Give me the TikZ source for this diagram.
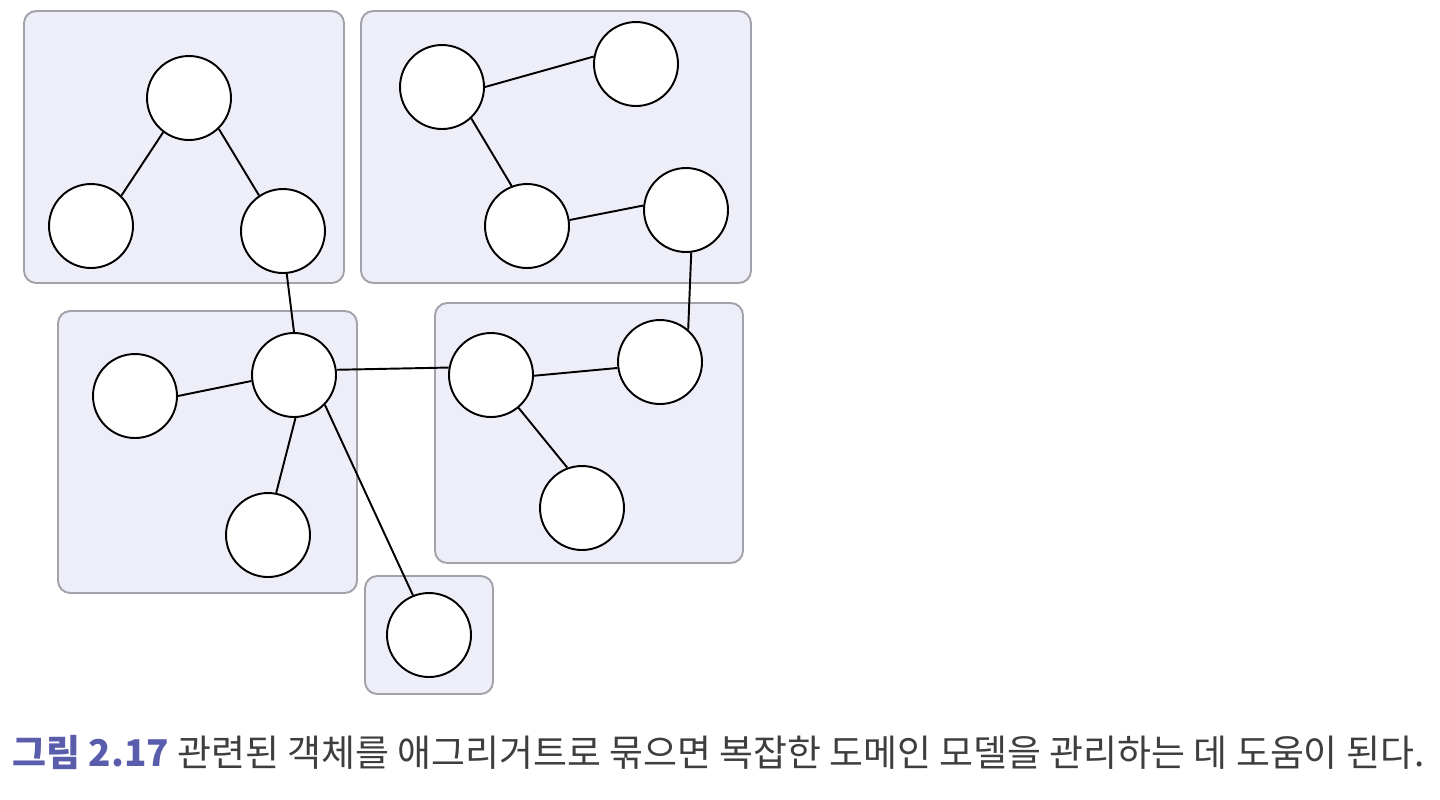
\documentclass[tikz,border=0pt]{standalone}
\usepackage{fontspec}
\newfontfamily\kr{Noto Sans CJK KR}
\usetikzlibrary{positioning,calc}
\definecolor{aggfill}{HTML}{EEEEF8}
\definecolor{aggline}{HTML}{A2A2AA}
\definecolor{capblue}{HTML}{5A5DAB}
\definecolor{capgray}{HTML}{3E3E3E}
\tikzset{obj/.style={draw,circle,fill=white,minimum size=1.68cm,inner sep=0pt,line width=1.1pt}  }
\tikzset{agg/.style={draw=aggline,fill=aggfill,rounded corners=7pt,line width=1.1pt}  }

\begin{document}
\begin{tikzpicture}[x=0.02cm,y=-0.02cm]
    \useasboundingbox (0,0) rectangle (1440,799);

    % aggregates
    \draw[agg] (24,11) rectangle (344,283);
    \draw[agg] (361,11) rectangle (751,283);
    \draw[agg] (58,311) rectangle (357,593);
    \draw[agg] (435,303) rectangle (743,563);
    \draw[agg] (365,576) rectangle (493,694);

    \node[obj] (a1) at (189,98) {};
    \node[obj] (a2) at (91,226) {};
    \node[obj] (a3) at (283,231) {};

    \node[obj] (b1) at (442,87) {};
    \node[obj] (b2) at (636,64) {};
    \node[obj] (b3) at (527,226) {};
    \node[obj] (b4) at (686,210) {};

    \node[obj] (c1) at (135,396) {};
    \node[obj] (c2) at (294,375) {};
    \node[obj] (c3) at (268,535) {};

    \node[obj] (d1) at (491,375) {};
    \node[obj] (d2) at (660,362) {};
    \node[obj] (d3) at (582,508) {};

    \node[obj] (e1) at (429,635) {};

    \draw[line width=1.1pt] (a1.233) -- (a2.45)
          (a1.-46) -- (a3.124)
          (a3.-85) -- (c2.north);

    \draw[line width=1.1pt] (b1.east) -- (b2.170)
          (b1.-47) -- (b3.111)
          (b3.8) -- (b4.174)
          (b4.-83) -- (d2.49);

    \draw[line width=1.1pt] (c1.east) -- (c2.188)
          (c2.7) -- (d1.170)
          (c2.-88) -- (c3.79)
          (c2.-44) -- (e1.112);

    \draw[line width=1.1pt] (d1.-1) -- (d2.188)
          (d1.-50) -- (d3.110);

    \node[anchor=west,inner sep=0pt] (cap) at (12,752)
      {\kr\fontsize{21}{25}\selectfont{\bfseries\color{capblue}그림 2.17} \color{capgray}관련된 객체를 애그리거트로 묶으면 복잡한 도메인 모델을 관리하는 데 도움이 된다.};
\end{tikzpicture}
\end{document}
